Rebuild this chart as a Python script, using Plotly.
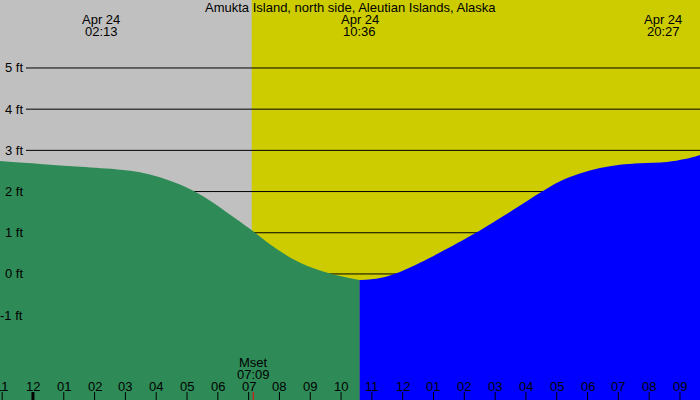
import plotly.graph_objects as go

title_text = "Amukta Island, north side, Aleutian Islands, Alaska"

# tide curve (hours from midnight Apr 24, feet)
tide_hours = [-1.07, 0.23, 1.53, 2.82, 3.47, 4.12, 4.77, 5.42, 5.91, 6.39, 7.21, 7.69,
              8.67, 9.64, 10.60, 11.26, 11.91, 12.56, 13.21, 14.38, 15.06, 15.81, 16.46,
              17.11, 17.75, 18.40, 19.05, 19.70, 20.58, 21.16, 21.65]
tide_ft = [2.74, 2.67, 2.60, 2.53, 2.47, 2.35, 2.17, 1.93, 1.70, 1.44, 1.00, 0.72,
           0.27, 0.01, -0.15, -0.10, 0.05, 0.27, 0.52, 1.00, 1.31, 1.66, 1.97,
           2.25, 2.44, 2.57, 2.65, 2.69, 2.72, 2.79, 2.89]

now_split = 10.6          # low tide 10:36, colour change
day_start = 7.1           # background change
x_min, x_max = -1.07, 21.65
y_min, y_max = -3.06, 6.65

level_ft = [5, 4, 3, 2, 1, 0, -1]
level_labels = ["5 ft", "4 ft", "3 ft", "2 ft", "1 ft", "0 ft", "-1 ft"]
grid_levels = [5, 4, 3, 2, 1, 0]

event_hours = [2.22, 10.6, 20.45]
event_dates = ["Apr 24", "Apr 24", "Apr 24"]
event_times = ["02:13", "10:36", "20:27"]

hour_ticks = list(range(-1, 22))
hour_labels = ["11", "12", "01", "02", "03", "04", "05", "06", "07", "08", "09", "10",
               "11", "12", "01", "02", "03", "04", "05", "06", "07", "08", "09"]

mset_hour = 7.15
mset_lines = ["Mset", "07:09"]

FONT = "Liberation Sans"
FS = 13

fig = go.Figure()

green_x = [h for h in tide_hours if h <= now_split]
green_y = [v for h, v in zip(tide_hours, tide_ft) if h <= now_split]
blue_x = [h for h in tide_hours if h >= now_split]
blue_y = [v for h, v in zip(tide_hours, tide_ft) if h >= now_split]

base = y_min - 1
fig.add_trace(go.Scatter(x=[green_x[0], green_x[-1]], y=[base, base], mode="lines",
                         line=dict(width=0), hoverinfo="skip", showlegend=False))
fig.add_trace(go.Scatter(x=green_x, y=green_y, mode="lines",
                         line=dict(width=0, shape="spline", smoothing=1.0),
                         fill="tonexty", fillcolor="#2E8B57", hoverinfo="skip", showlegend=False))
fig.add_trace(go.Scatter(x=[blue_x[0], blue_x[-1]], y=[base, base], mode="lines",
                         line=dict(width=0), hoverinfo="skip", showlegend=False))
fig.add_trace(go.Scatter(x=blue_x, y=blue_y, mode="lines",
                         line=dict(width=0, shape="spline", smoothing=1.0),
                         fill="tonexty", fillcolor="#0000FF", hoverinfo="skip", showlegend=False))

shapes = []
shapes.append(dict(type="rect", xref="x", yref="paper", x0=x_min, x1=day_start, y0=0, y1=1,
                   fillcolor="#C0C0C0", line=dict(width=0), layer="below"))
shapes.append(dict(type="rect", xref="x", yref="paper", x0=day_start, x1=x_max, y0=0, y1=1,
                   fillcolor="#CCCC00", line=dict(width=0), layer="below"))
for lv in grid_levels:
    shapes.append(dict(type="line", xref="paper", yref="y", x0=26 / 700, x1=1, y0=lv, y1=lv,
                       line=dict(color="black", width=1), layer="below"))
for h in hour_ticks:
    shapes.append(dict(type="line", xref="x", yref="paper", x0=h, x1=h, y0=0, y1=8 / 400,
                       line=dict(color="black", width=3 if h == 0 else 1)))
shapes.append(dict(type="line", xref="x", yref="paper", x0=mset_hour, x1=mset_hour, y0=0, y1=8 / 400,
                   line=dict(color="red", width=1)))


def txt(text, x, y, xref="paper", xanchor="center"):
    return dict(text=text, xref=xref, yref="paper", x=x, y=1 - y / 400, yanchor="middle",
                xanchor=xanchor, showarrow=False,
                font=dict(family=FONT, size=FS, color="black"))


annotations = [txt(title_text, 0.5, 7.5)]
for h, d, t in zip(event_hours, event_dates, event_times):
    annotations.append(txt(d, h, 19.5, xref="x"))
    annotations.append(txt(t, h, 31.5, xref="x"))
for lv, t in zip(level_ft, level_labels):
    annotations.append(dict(text=t, xref="paper", yref="y", x=25 / 700, y=lv, xanchor="right",
                            yanchor="middle", showarrow=False,
                            font=dict(family=FONT, size=FS, color="black")))
for h, t in zip(hour_ticks, hour_labels):
    annotations.append(txt(t, h, 386, xref="x"))
annotations.append(txt(mset_lines[0], mset_hour, 362.5, xref="x"))
annotations.append(txt(mset_lines[1], mset_hour, 374.5, xref="x"))

fig.update_layout(
    width=700, height=400, margin=dict(l=0, r=0, t=0, b=0),
    paper_bgcolor="#C0C0C0", plot_bgcolor="#C0C0C0",
    xaxis=dict(range=[x_min, x_max], visible=False, fixedrange=True),
    yaxis=dict(range=[y_min, y_max], visible=False, fixedrange=True),
    shapes=shapes, annotations=annotations, showlegend=False,
)

fig.write_html("out.html", config={"displayModeBar": False})
